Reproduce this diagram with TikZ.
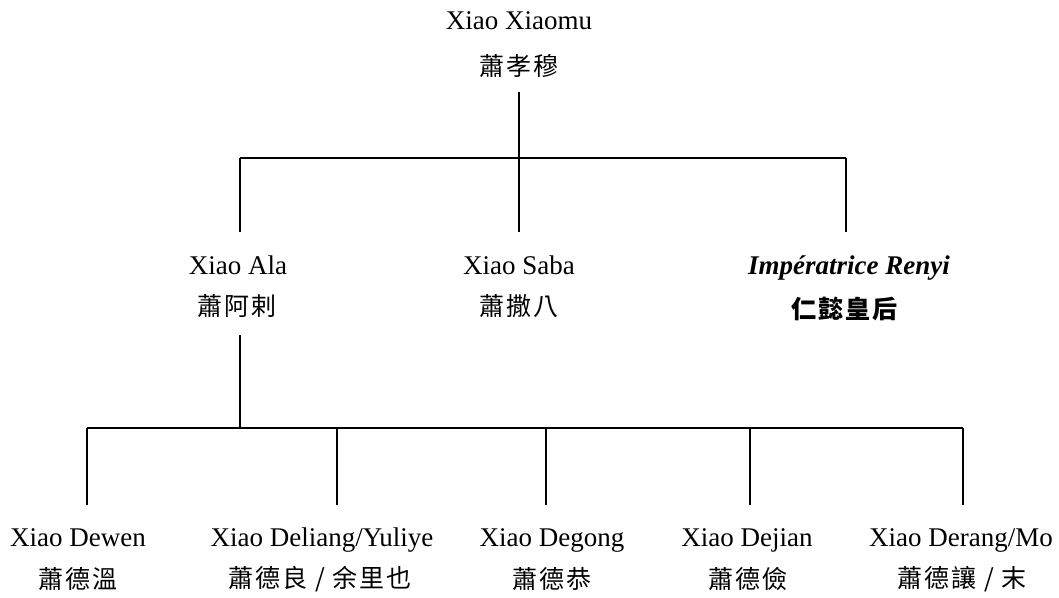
\documentclass[tikz,border=0pt]{standalone}
\usepackage{fontspec}
\setmainfont{Liberation Serif}
\newfontfamily\cjk[LetterSpace=8]{Noto Sans CJK TC}
\begin{document}
\begin{tikzpicture}[x=1pt,y=-1pt,
  pname/.style={font=\fontsize{27}{30}\selectfont, inner sep=0pt, anchor=base},
  han/.style={font=\cjk\fontsize{25}{28}\selectfont, inner sep=0pt, anchor=center},
  link/.style={draw=black, line width=2pt}]
\useasboundingbox (0,0) rectangle (1059,597);
% generation 1
\node[pname] (xm) at (519,29) {Xiao Xiaomu};
\node[han] (xmc) at (519,66) {蕭孝穆};
% generation 2
\node[pname] (ala) at (238,274) {Xiao Ala};
\node[han] (alac) at (237,306) {蕭阿剌};
\node[pname] (saba) at (519,274) {Xiao Saba};
\node[han] (sabac) at (519,306) {蕭撒八};
\node[pname, font=\fontsize{27}{30}\selectfont\bfseries\itshape] (ren) at (849,274) {Impératrice Renyi};
\node[han, font=\cjk\fontsize{25}{28}\selectfont\bfseries] (renc) at (844,309) {仁懿皇后};
% generation 3
\node[pname] (dw) at (78,546) {Xiao Dewen};
\node[han] (dwc) at (78,579) {蕭德溫};
\node[pname] (dl) at (322,546) {Xiao Deliang/Yuliye};
\node[han] (dlc) at (320,579) {蕭德良 / 余里也};
\node[pname] (dg) at (552,546) {Xiao Degong};
\node[han] (dgc) at (552,579) {蕭德恭};
\node[pname] (dj) at (747,546) {Xiao Dejian};
\node[han] (djc) at (748,579) {蕭德儉};
\node[pname] (dr) at (961,546) {Xiao Derang/Mo};
\node[han] (drc) at (962,579) {蕭德讓 / 末};
% junction coordinates
\coordinate (t0) at (519,92);
\coordinate (t1) at (519,158);
\coordinate (h1l) at (240,158);
\coordinate (h1r) at (846,158);
\coordinate (e1a) at (240,232);
\coordinate (e1b) at (519,232);
\coordinate (e1c) at (846,232);
\coordinate (a0) at (240,335);
\coordinate (a1) at (240,428);
\coordinate (h2l) at (87,428);
\coordinate (h2r) at (963,428);
\coordinate (b2) at (337,428);
\coordinate (b3) at (546,428);
\coordinate (b4) at (750,428);
\coordinate (e2a) at (87,505);
\coordinate (e2b) at (337,505);
\coordinate (e2c) at (546,505);
\coordinate (e2d) at (750,505);
\coordinate (e2e) at (963,505);
% connectors
\draw[link] (t0) -- (t1);
\draw[link] (h1l) -- (h1r);
\draw[link] (t1) -- (e1b);
\draw[link] (h1l) -- (e1a);
\draw[link] (h1r) -- (e1c);
\draw[link] (a0) -- (a1);
\draw[link] (h2l) -- (h2r);
\draw[link] (h2l) -- (e2a);
\draw[link] (b2) -- (e2b);
\draw[link] (b3) -- (e2c);
\draw[link] (b4) -- (e2d);
\draw[link] (h2r) -- (e2e);
\end{tikzpicture}
\end{document}
